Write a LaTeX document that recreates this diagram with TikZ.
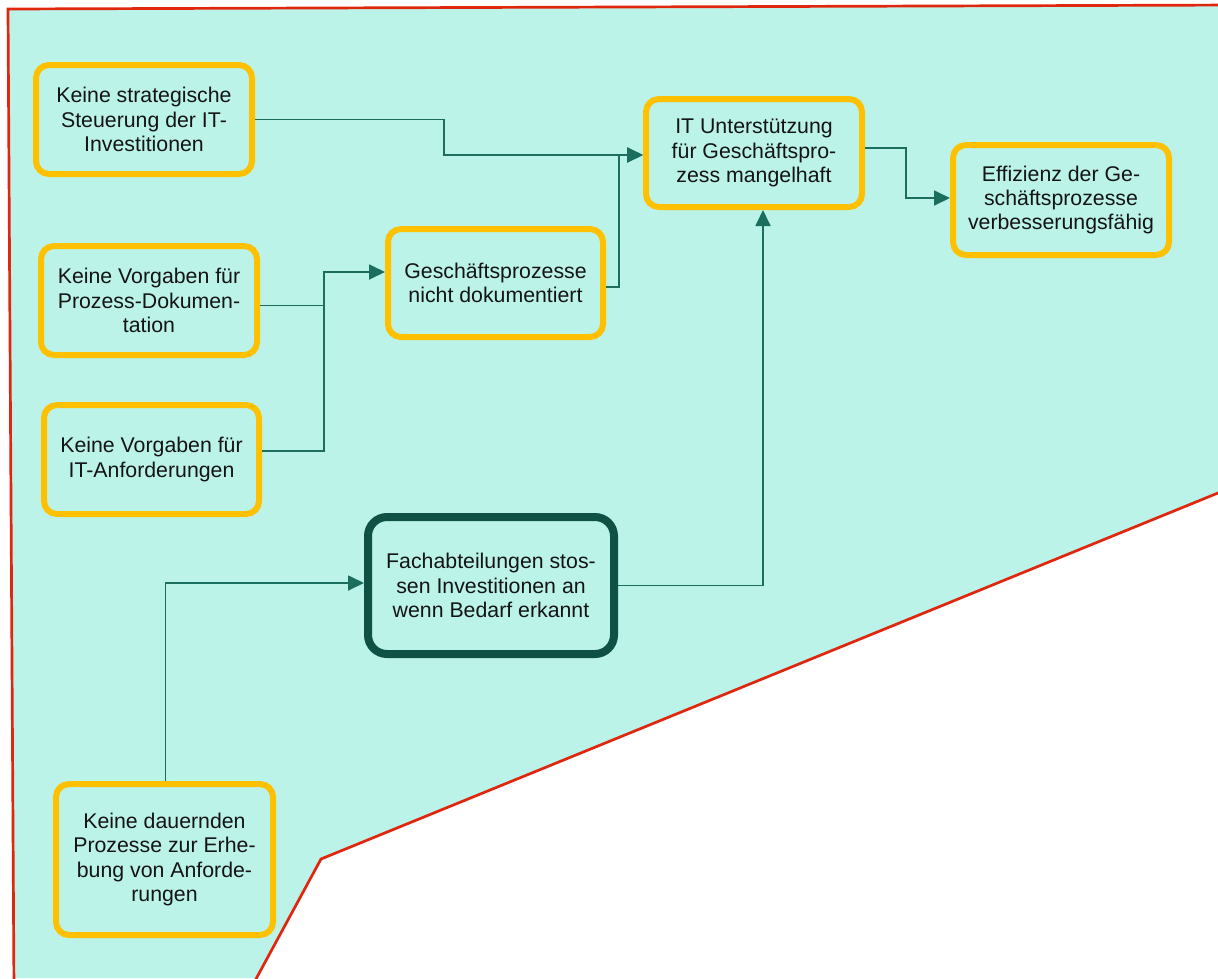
\documentclass[tikz,border=0pt]{standalone}
\usepackage{fontspec}
\setmainfont{Liberation Sans}
\usetikzlibrary{arrows.meta}
\definecolor{bgfill}{HTML}{BBF3E9}
\definecolor{boxorange}{HTML}{FFC000}
\definecolor{darkbox}{HTML}{0F5245}
\definecolor{connc}{HTML}{1B6E5E}
\definecolor{framered}{HTML}{E0260C}
\tikzset{
  obox/.style={draw=boxorange, line width=6pt, rounded corners=13pt, fill=bgfill,
    align=center, inner sep=0pt, text=black!92,
    font=\fontsize{21.3}{24.3}\selectfont},
  gbox/.style={obox, draw=darkbox, line width=8pt, rounded corners=19pt},
  conn/.style={draw=connc, line width=1.8pt, -{Triangle[length=16pt,width=15pt]}},
  plainconn/.style={draw=connc, line width=1.8pt}
}
\begin{document}
\begin{tikzpicture}[x=1pt,y=-1pt]
\useasboundingbox (0,0) rectangle (1218,978);
\fill[white] (0,0) rectangle (1218,978);
\fill[bgfill] (8,9) -- (1230,5) -- (1230,488) -- (321,859) -- (257,978) -- (14,978) -- cycle;
\draw[framered, line width=2.7pt] (1240,484) -- (321,859) -- (250,990);
\draw[framered, line width=2.7pt] (14,990) -- (8,9) -- (1240,5);

\node[obox, minimum width=216pt, minimum height=109pt] (b1) at (144,119.5)
  {Keine strategische\\Steuerung der IT-\\Investitionen};
\node[obox, minimum width=216pt, minimum height=108pt] (b2) at (754,153)
  {IT Unterstützung\\für Geschäftspro-\\zess mangelhaft};
\node[obox, minimum width=216pt, minimum height=110pt] (b3) at (1061,200)
  {Effizienz der Ge-\\schäftsprozesse\\verbesserungsfähig};
\node[obox, minimum width=216pt, minimum height=109pt] (b4) at (149,300.5)
  {Keine Vorgaben für\\Prozess-Dokumen-\\tation};
\node[obox, minimum width=215pt, minimum height=108pt] (b5) at (495.5,283)
  {Geschäftsprozesse\\nicht dokumentiert};
\node[obox, minimum width=215pt, minimum height=109pt] (b6) at (151.5,459.5)
  {Keine Vorgaben für\\IT-Anforderungen};
\node[gbox, minimum width=246pt, minimum height=137pt] (b7) at (491,585.5)
  {Fachabteilungen stos-\\sen Investitionen an\\wenn Bedarf erkannt};
\node[obox, minimum width=217pt, minimum height=151pt] (b8) at (164.5,859.5)
  {Keine dauernden\\Prozesse zur Erhe-\\bung von Anforde-\\rungen};

\coordinate (j1) at (324,305.5);
\draw[conn] (b1.east) -- ++(189,0) |- ([yshift=-2pt]b2.west);
\draw[conn] ([yshift=-4pt]b5.east) -- ++(13,0) |- ([yshift=-2pt]b2.west);
\draw[conn] ([yshift=-5pt]b4.east) -- (j1) |- ([yshift=11pt]b5.west);
\draw[plainconn] ([yshift=8.5pt]b6.east) -| (j1);
\draw[conn] (b7.east) -| ([xshift=9pt]b2.south);
\draw[conn] ([xshift=1pt]b8.north) |- ([yshift=2.5pt]b7.west);
\draw[conn] ([yshift=5pt]b2.east) -- ++(41,0) |- ([yshift=2pt]b3.west);
\end{tikzpicture}
\end{document}
